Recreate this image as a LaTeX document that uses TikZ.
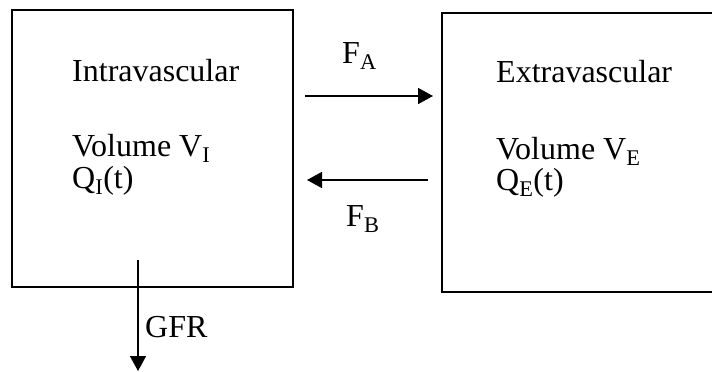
\documentclass[tikz,border=0pt]{standalone}
\usepackage{fontspec}
\setmainfont{Liberation Serif}
\usepackage{tikz}
\usetikzlibrary{positioning,arrows.meta,calc}

\tikzset{
  compbox/.style={draw, line width=2pt, minimum width=281pt, minimum height=277pt, inner sep=0pt},
  lbl/.style={anchor=base west, inner sep=0pt},
  flow/.style={line width=1.6pt, -{Triangle[length=15pt,width=16pt]}}
}

\begin{document}
\begin{tikzpicture}[x=1pt,y=-1pt,font=\fontsize{32}{38}\selectfont]
\clip (0,0) rectangle (712,372);
% compartments
\node[compbox] (intra) at (152.5,148.5) {};
\node[compbox, minimum width=300pt, minimum height=279pt] (extra) at (592,152.5) {};
\node[lbl] (intraname) at (72,81) {Intravascular};
\node[lbl] (intravol) at (72,156) {Volume V\textsubscript{I}};
\node[lbl] (intraq) at (72,188) {Q\textsubscript{I}(t)};
\node[lbl] (extraname) at (496,82) {Extravascular};
\node[lbl] (extravol) at (496,159) {Volume V\textsubscript{E}};
\node[lbl] (extraq) at (496,190) {Q\textsubscript{E}(t)};
% exchange
\coordinate (faL) at (305,96);
\coordinate (faR) at (433,96);
\coordinate (fbR) at (428,180);
\coordinate (fbL) at (307,180);
\draw[flow] (faL) -- (faR);
\draw[flow] (fbR) -- (fbL);
\node[lbl] (fa) at (342,63) {F\textsubscript{A}};
\node[lbl] (fb) at (346,226) {F\textsubscript{B}};
% clearance
\coordinate (gfrtop) at (138,260);
\coordinate (gfrend) at (138,371);
\draw[flow] (gfrtop) -- (gfrend);
\node[lbl] (gfr) at (145,337) {GFR};
\end{tikzpicture}
\end{document}
